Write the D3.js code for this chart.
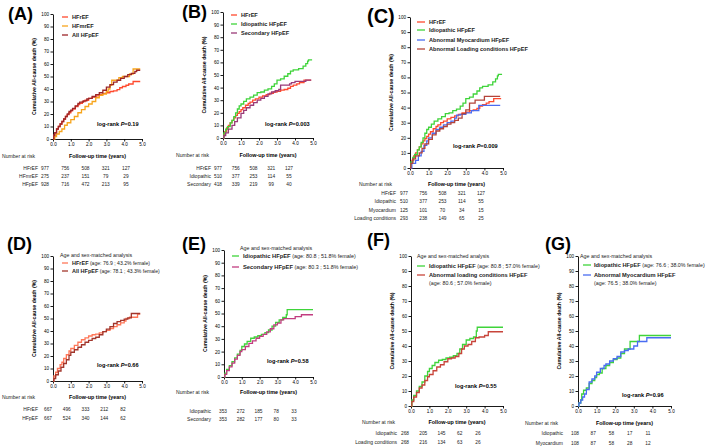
<html>
<head>
<meta charset="utf-8">
<title>KM curves</title>
<style>
  body { margin: 0; background: #fff; }
  svg { font-family: "Liberation Sans", Arial, sans-serif; }
  .axis path, .axis line { stroke: #000; stroke-width: 0.9px; }
  .axis text { font-size: 4.6px; fill: #000; }
  .curve { fill: none; stroke-width: 1.3px; }
</style>
</head>
<body>
<div id="chart"></div>
<script src="https://d3js.org/d3.v7.min.js"></script>
<script>
// ---- data ----
const yTicks = [0, 10, 20, 30, 40, 50, 60, 70, 80, 90, 100];
const xTicks = [0, 1, 2, 3, 4, 5];

// cumulative death (%) step points: [year, value]
const hfrefAll = [[0,0],[0.05,3],[0.1,5],[0.2,8],[0.3,10],[0.4,12],[0.5,14],[0.6,16],[0.7,18],[0.8,19.5],[0.9,21],[1,22.5],[1.1,24],[1.25,26],[1.4,27.5],[1.5,28.5],[1.65,30],[1.8,31],[2,32.5],[2.2,33.5],[2.4,34.5],[2.6,35.5],[2.8,36.5],[3,37],[3.2,38],[3.4,38.5],[3.6,39.5],[3.75,41],[3.9,42],[4.1,43],[4.25,44],[4.5,46],[4.9,46]];
const hfmref = [[0,0],[0.1,2],[0.2,4],[0.35,6],[0.5,8],[0.65,11],[0.8,13],[1,15.5],[1.2,18],[1.4,21],[1.6,23.5],[1.8,26],[2,28],[2.2,30],[2.4,33],[2.6,35],[2.8,36],[3,38],[3.1,40],[3.2,43],[3.3,47],[3.5,47],[3.7,49],[3.9,50],[4.1,50],[4.3,52],[4.5,56],[4.9,56]];
const hfpefAll = [[0,0],[0.05,3],[0.1,5],[0.2,8],[0.3,10],[0.4,12],[0.5,14],[0.6,16],[0.7,18],[0.8,20],[0.9,22],[1,23],[1.1,24.5],[1.25,26.5],[1.4,28.5],[1.5,29.5],[1.7,30.5],[1.9,32],[2,32.5],[2.2,34],[2.4,35.5],[2.6,37],[2.8,39],[3,41.5],[3.2,43.5],[3.4,45.5],[3.6,47],[3.8,48.5],[4,50],[4.2,51.5],[4.4,52.5],[4.6,54],[4.7,55],[4.9,55]];
const idioAll = [[0,0],[0.05,4],[0.15,7],[0.25,9],[0.4,12],[0.5,14],[0.6,17],[0.7,20],[0.8,23],[0.9,25.5],[1,27],[1.15,29],[1.3,31],[1.5,32.5],[1.7,34],[1.9,36],[2.1,36.5],[2.3,38],[2.5,39],[2.7,41],[2.85,43],[3,46],[3.2,47],[3.4,49],[3.6,51],[3.75,53],[3.9,54],[4.2,55],[4.45,57],[4.6,59],[4.7,61],[4.75,62],[4.95,62]];
const secAll = [[0,0],[0.05,2],[0.15,4],[0.3,7],[0.5,10],[0.65,13],[0.8,16],[1,19.5],[1.15,22],[1.3,24],[1.5,26],[1.7,28],[1.9,30],[2.1,31.5],[2.3,33],[2.5,35],[2.7,36.5],[2.9,37.5],[3.1,38.5],[3.2,42],[3.5,42],[3.7,43],[3.8,44],[4,45],[4.4,45],[4.6,46],[4.9,46]];
const myoAll = [[0,0],[0.1,3],[0.3,5],[0.45,8],[0.6,11],[0.75,15],[0.9,18],[1,20],[1.2,23],[1.4,25.5],[1.6,27],[1.8,28.5],[2,30],[2.2,31],[2.4,33],[2.5,35],[2.7,35.5],[3,36.5],[3.3,38],[3.6,38],[3.7,41.5],[4.85,41.5]];
const loadAll = [[0,0],[0.05,3],[0.15,6],[0.3,8],[0.5,10],[0.65,13],[0.8,16],[1,19],[1.2,22],[1.4,24.5],[1.6,26],[1.8,27.5],[2,29],[2.2,30],[2.4,31.5],[2.6,33],[2.8,36],[3,38.5],[3.2,43],[3.5,45],[3.75,45],[4,47.5],[4.85,47.5]];
const hfrefMatched = [[0,0],[0.05,4],[0.15,7],[0.25,10],[0.4,13],[0.5,15],[0.6,18],[0.75,21],[0.9,24],[1,26],[1.2,28.5],[1.4,31],[1.6,33],[1.8,34.5],[2,36],[2.2,37],[2.4,37.5],[2.6,38.5],[2.8,39.5],[3,40.5],[3.2,42],[3.4,43.5],[3.6,45],[3.8,46.5],[4,48],[4.1,50],[4.3,51],[4.5,51],[4.75,53.5],[4.9,53.5]];
const hfpefMatched = [[0,0],[0.05,2],[0.15,5],[0.3,8],[0.45,11],[0.6,14],[0.75,17],[0.9,20.5],[1,23],[1.2,25],[1.4,27],[1.6,29],[1.8,31],[2,32.5],[2.2,34],[2.4,35],[2.6,37],[2.8,39.5],[3,41.5],[3.2,43.5],[3.4,46],[3.6,47.5],[3.8,48.5],[4,49.5],[4.2,50.5],[4.4,54],[4.9,54]];
const idioE = [[0,0],[0.05,3],[0.15,6],[0.3,9],[0.45,12],[0.6,15],[0.75,18],[0.9,21],[1,24],[1.15,26],[1.3,28],[1.5,30.5],[1.7,31.5],[1.9,32.5],[2.1,33.5],[2.3,35],[2.5,37],[2.7,40],[2.9,43],[3.1,45],[3.3,47],[3.5,49],[3.55,53],[5,53]];
const secE = [[0,0],[0.05,2],[0.15,5],[0.3,8],[0.45,11],[0.6,14],[0.75,17],[0.9,20],[1,21.5],[1.2,24],[1.4,26.5],[1.6,28.5],[1.8,30.5],[2,32],[2.2,33.5],[2.4,35.5],[2.6,38],[2.8,41],[3,42.5],[3.2,45],[3.35,46],[3.9,46],[4,47.5],[4.35,49],[5,49]];
const idioF = [[0,0],[0.05,4],[0.15,7],[0.3,10],[0.45,13],[0.6,16],[0.75,20],[0.9,23],[1,25],[1.15,27],[1.3,29],[1.5,30.5],[1.7,31],[1.9,32],[2.1,32.5],[2.3,33.5],[2.5,35],[2.65,38],[2.8,41],[3,44],[3.2,45],[3.4,46],[3.55,50],[3.6,52.5],[5,52.5]];
const loadF = [[0,0],[0.05,3],[0.15,6],[0.3,9],[0.45,12],[0.6,14],[0.75,17],[0.9,19.5],[1,21],[1.2,23.5],[1.4,26],[1.6,27.5],[1.8,29.5],[2,31.5],[2.2,32],[2.4,33],[2.6,35],[2.75,38],[2.9,40],[3.1,41],[3.3,43],[3.5,45.5],[3.7,46],[4,47],[4.2,49.5],[5,49.5]];
const idioG = [[0,0],[0.05,2],[0.15,4],[0.2,8],[0.3,10.5],[0.45,12],[0.6,15],[0.75,17],[0.9,19],[1,21],[1.15,22],[1.3,25],[1.5,27],[1.7,29],[1.9,31],[2.1,32],[2.3,35],[2.5,38],[2.7,38],[2.8,43],[3.2,43],[3.3,47],[5,47]];
const myoG = [[0,0],[0.05,2],[0.15,4],[0.25,6],[0.35,8],[0.45,11],[0.6,16],[0.75,18],[0.9,20],[1,22.5],[1.2,25],[1.4,27],[1.5,28],[1.7,30],[1.9,31.5],[2.1,33],[2.3,36],[2.5,37],[2.7,38],[3,40],[3.2,43],[3.7,45.5],[5,45.5]];

// numbers at risk
const riskA = [["HFrEF", [977, 756, 508, 321, 127]], ["HFmrEF", [275, 237, 151, 79, 29]], ["HFpEF", [928, 716, 472, 213, 95]]];
const riskB = [["HFrEF", [977, 756, 508, 321, 127]], ["Idiopathic", [510, 377, 253, 114, 55]], ["Secondary", [418, 339, 219, 99, 40]]];
const riskC = [["HFrEF", [977, 756, 508, 321, 127]], ["Idiopathic", [510, 377, 253, 114, 55]], ["Myocardium", [125, 101, 70, 34, 15]], ["Loading conditions", [293, 238, 149, 65, 25]]];
const riskD = [["HFrEF", [667, 496, 333, 212, 82]], ["HFpEF", [667, 524, 340, 144, 62]]];
const riskE = [["Idiopathic", [353, 272, 185, 78, 33]], ["Secondary", [353, 282, 177, 80, 33]]];
const riskF = [["Idiopathic", [268, 205, 145, 62, 26]], ["Loading conditions", [268, 216, 134, 63, 26]]];
const riskG = [["Idiopathic", [108, 87, 58, 17, 11]], ["Myocardium", [108, 87, 58, 28, 12]]];

const pValues = ["0.19", "0.003", "0.009", "0.66", "0.58", "0.55", "0.96"];

// ---- layout ----
const panels = [
  { tag: "(A)", lab: [8, 20, 18], x: [53, 142], y: [14, 139], p: [97, 126], xl: 156, nar: 2, rl: 38, rows: [168, 176, 184], cols: [45, 126], risk: riskA,
    leg: { lx: [62, 68], tx: 72, ys: [17, 26, 35], fs: 5.6 },
    series: [ { d: hfrefAll, c: "#ff4a2e", n: "HFrEF" }, { d: hfmref, c: "#f7a51c", n: "HFmrEF" }, { d: hfpefAll, c: "#9c2527", n: "All HFpEF" } ] },
  { tag: "(B)", lab: [182, 18, 18], x: [223, 313], y: [12, 138], p: [265, 126], xl: 155, nar: 176, rl: 211, rows: [168, 176, 184], cols: [218, 289], risk: riskB,
    leg: { lx: [231, 237], tx: 241, ys: [15, 24, 33], fs: 5.6 },
    series: [ { d: hfrefAll, c: "#ff4a2e", n: "HFrEF" }, { d: idioAll, c: "#3fd43a", n: "Idiopathic HFpEF" }, { d: secAll, c: "#9a3a78", n: "Secondary HFpEF" } ] },
  { tag: "(C)", lab: [367, 23, 20], x: [410, 503], y: [17, 168], p: [453, 148], xl: 184, nar: 359, rl: 396, rows: [193, 201, 210, 218], cols: [404, 481], risk: riskC,
    leg: { lx: [417, 425], tx: 429, ys: [22, 30, 40, 49], fs: 5.6 },
    series: [ { d: hfrefAll, c: "#ff4a2e", n: "HFrEF" }, { d: idioAll, c: "#3fd43a", n: "Idiopathic HFpEF" }, { d: myoAll, c: "#4a6cf2", n: "Abnormal Myocardium HFpEF" }, { d: loadAll, c: "#b4443a", n: "Abnormal Loading conditions HFpEF" } ] },
  { tag: "(D)", lab: [7, 250, 18], x: [53, 142], y: [256, 381], p: [97, 367], xl: 397, nar: 2, rl: 38, rows: [409, 418], cols: [48, 123], risk: riskD,
    sub: [60, 255], leg: { lx: [62, 68], tx: 72, ys: [263, 271], fs: 5.5 },
    series: [ { d: hfrefMatched, c: "#ff7758", n: "HFrEF", a: " (age: 76.9 ; 43.2% female)" }, { d: hfpefMatched, c: "#a2362c", n: "All HFpEF", a: " (age: 78.1 ; 43.3% female)" } ] },
  { tag: "(E)", lab: [182, 250, 18], x: [224, 313], y: [250, 377], p: [267, 363], xl: 392, nar: 176, rl: 211, rows: [411, 419], cols: [223, 294], risk: riskE,
    sub: [240, 248], leg: { lx: [232, 239], tx: 243, ys: [256, 267], fs: 5.8 },
    series: [ { d: idioE, c: "#3fd43a", n: "Idiopathic HFpEF", a: " (age: 80.8 ; 51.8% female)" }, { d: secE, c: "#c23d80", n: "Secondary HFpEF", a: " (age: 80.3 ; 51.8% female)" } ] },
  { tag: "(F)", lab: [367, 246, 18], x: [411, 503], y: [256, 406], p: [455, 388], xl: 422, nar: 362, rl: 397, rows: [433, 442], cols: [405, 478], risk: riskF,
    sub: [417, 256], leg: { lx: [417, 425], tx: 429, ys: [266, 275], fs: 5.7 },
    series: [ { d: idioF, c: "#3fd43a", n: "Idiopathic HFpEF", a: " (age: 80.8 ; 57.0% female)" }, { d: loadF, c: "#c8443a", n: "Abnormal loading conditions HFpEF", a2: "(age: 80.6 ; 57.0% female)" } ] },
  { tag: "(G)", lab: [545, 250, 18], x: [578, 671], y: [256, 406], p: [622, 397], xl: 423, nar: 525, rl: 563, rows: [433, 443], cols: [575, 648], risk: riskG,
    sub: [580, 256], leg: { lx: [583, 591], tx: 594, ys: [265, 275], fs: 5.7 },
    series: [ { d: idioG, c: "#3fd43a", n: "Idiopathic HFpEF", a: " (age: 76.6 ; 38.0% female)" }, { d: myoG, c: "#4a6cf2", n: "Abnormal Myocardium HFpEF", a2: "(age: 76.5 ; 38.0% female)" } ] }
];

const svg = d3.select("#chart").append("svg")
  .attr("width", 709)
  .attr("height", 446);

panels.forEach(function (P, i) {
  const g = svg.append("g");
  const x = d3.scaleLinear().domain([0, 5]).range(P.x);
  const y = d3.scaleLinear().domain([0, 100]).range([P.y[1], P.y[0]]);

  // panel tag
  g.append("text").attr("x", P.lab[0]).attr("y", P.lab[1])
    .style("font-size", P.lab[2] + "px").style("font-weight", "bold").text(P.tag);

  // axes
  g.append("g").attr("class", "axis")
    .attr("transform", "translate(" + P.x[0] + ",0)")
    .call(d3.axisLeft(y).tickValues(yTicks).tickSize(2.5).tickSizeOuter(0).tickPadding(1.5));
  g.append("g").attr("class", "axis")
    .attr("transform", "translate(0," + P.y[1] + ")")
    .call(d3.axisBottom(x).tickValues(xTicks).tickSize(2.5).tickSizeOuter(0).tickPadding(1));

  // y label
  g.append("text")
    .attr("transform", "translate(" + (P.x[0] - 17) + "," + ((P.y[0] + P.y[1]) / 2) + ") rotate(-90)")
    .attr("text-anchor", "middle")
    .style("font-size", "5.2px").style("font-weight", "bold")
    .text("Cumulative All-cause death (%)");

  // x label
  g.append("text").attr("x", (P.x[0] + P.x[1]) / 2).attr("y", P.xl + 2)
    .attr("text-anchor", "middle")
    .style("font-size", "5.4px").style("font-weight", "bold")
    .text("Follow-up time (years)");
  g.append("text").attr("x", P.nar).attr("y", P.xl + 2)
    .style("font-size", "5.1px").style("fill", "#222")
    .text("Number at risk");

  // curves
  const line = d3.line()
    .x(function (d) { return x(d[0]); })
    .y(function (d) { return y(d[1]); })
    .curve(d3.curveStepAfter);
  P.series.forEach(function (s) {
    g.append("path").datum(s.d).attr("class", "curve")
      .attr("stroke", s.c).attr("d", line);
  });

  // legend
  if (P.sub) {
    g.append("text").attr("x", P.sub[0]).attr("y", P.sub[1] + 2)
      .style("font-size", "5.3px").style("fill", "#222")
      .text("Age and sex-matched analysis");
  }
  P.series.forEach(function (s, k) {
    const ly = P.leg.ys[k];
    g.append("line").attr("x1", P.leg.lx[0]).attr("x2", P.leg.lx[1])
      .attr("y1", ly).attr("y2", ly)
      .attr("stroke", s.c).attr("stroke-width", 1.3);
    const t = g.append("text").attr("x", P.leg.tx).attr("y", ly + 2)
      .style("font-size", P.leg.fs + "px").style("fill", "#222");
    t.append("tspan").style("font-weight", "bold").text(s.n);
    if (s.a) t.append("tspan").style("font-size", (P.leg.fs - 0.4) + "px").text(s.a);
    if (s.a2) {
      g.append("text").attr("x", P.leg.tx).attr("y", ly + 10)
        .style("font-size", (P.leg.fs - 0.4) + "px").style("fill", "#222").text(s.a2);
    }
  });

  // log-rank
  const lr = g.append("text").attr("x", P.p[0]).attr("y", P.p[1])
    .style("font-size", "5.6px").style("font-weight", "bold");
  lr.append("tspan").text("log-rank ");
  lr.append("tspan").style("font-style", "italic").text("P");
  lr.append("tspan").text("=" + pValues[i]);

  // risk table
  const cx = d3.scalePoint().domain([0, 1, 2, 3, 4]).range(P.cols);
  P.risk.forEach(function (r, k) {
    const ry = P.rows[k] + 2;
    g.append("text").attr("x", P.rl).attr("y", ry).attr("text-anchor", "end")
      .style("font-size", "5px").style("fill", "#222").text(r[0]);
    g.selectAll(null).data(r[1]).enter().append("text")
      .attr("x", function (d, j) { return cx(j); })
      .attr("y", ry)
      .attr("text-anchor", "middle")
      .style("font-size", "4.8px").style("fill", "#222")
      .text(function (d) { return d; });
  });
});
</script>
</body>
</html>
